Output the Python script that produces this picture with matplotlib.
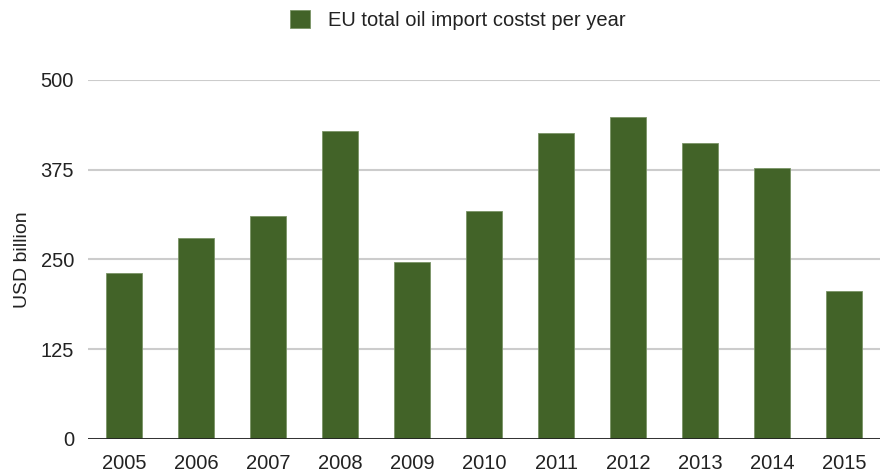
import matplotlib.pyplot as plt
import numpy as np

plt.rcParams['font.family'] = ['Liberation Sans', 'DejaVu Sans']

# data
years = ['2005', '2006', '2007', '2008', '2009', '2010',
         '2011', '2012', '2013', '2014', '2015']
costs = [231, 280, 311, 429, 247, 318, 426, 448, 412, 377, 206]
yticks = [0, 125, 250, 375, 500]
series_name = 'EU total oil import costst per year'

fig = plt.figure(figsize=(8.8, 4.73), dpi=100)
ax = fig.add_axes([0.1, 0.072, 0.9, 0.759])

x = np.arange(len(years))
ax.bar(x, costs, width=0.51, color='#426328', edgecolor='#7a9466',
       linewidth=0.6, label=series_name, zorder=3)

ax.set_xlim(-0.5, len(years) - 0.5)
ax.set_ylim(0, 500)
ax.set_yticks(yticks)
ax.set_xticks(x)
ax.set_xticklabels(years)
ax.grid(axis='y', color='#cccccc', linewidth=1.5, zorder=0)
ax.axhline(0, color='#222222', linewidth=2, zorder=4)

for s in ax.spines.values():
    s.set_visible(False)
ax.tick_params(length=0, labelsize=14.5, colors='#222222')
ax.tick_params(axis='x', pad=11)
ax.tick_params(axis='y', pad=10)
ax.set_ylabel('USD billion', fontsize=14, color='#222222', labelpad=7)

fig.legend(loc='upper center', bbox_to_anchor=(0.52, 1.017), frameon=False,
           fontsize=14.5, handlelength=1.0, handleheight=1.0,
           handletextpad=0.9, labelcolor='#222222')

fig.savefig('out.png', dpi=100)
